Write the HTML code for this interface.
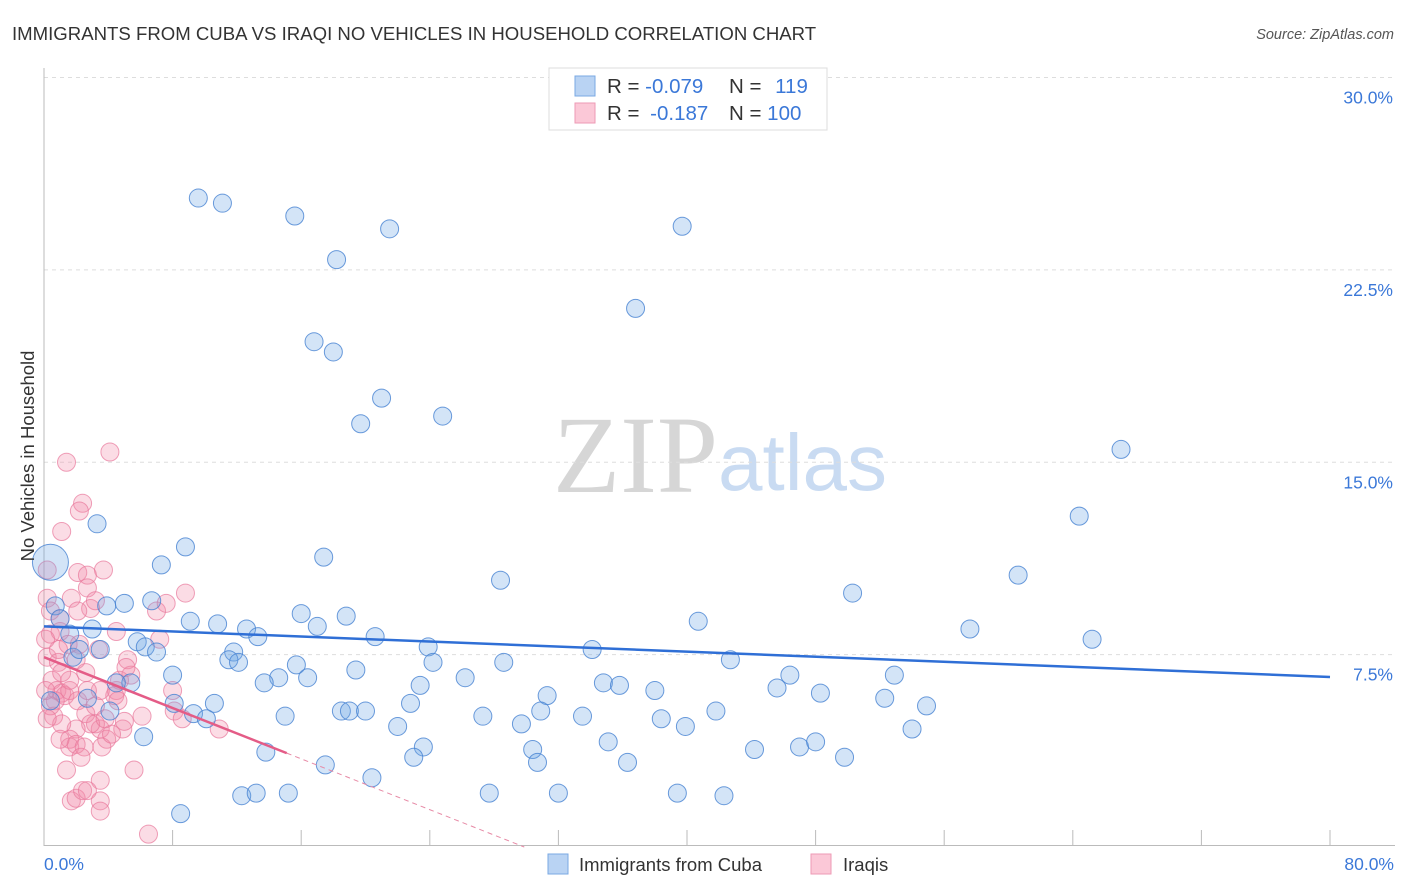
<!DOCTYPE html>
<html><head><meta charset="utf-8"><style>
body{margin:0;background:#fff;font-family:"Liberation Sans",sans-serif;}
svg{display:block}
</style></head><body>
<svg id="chart" width="1406" height="892" xmlns="http://www.w3.org/2000/svg">
<text x="12" y="40" font-size="18.6" fill="#333">IMMIGRANTS FROM CUBA VS IRAQI NO VEHICLES IN HOUSEHOLD CORRELATION CHART</text>
<text x="1394" y="39" font-size="14.5" fill="#555" font-style="italic" text-anchor="end">Source: ZipAtlas.com</text>
<text x="553" y="492" font-size="110" fill="#d6d6d6" font-family="Liberation Serif,serif">ZIP</text>
<text x="718" y="490" font-size="80" fill="#c9dbf2">atlas</text>
<g id="grid"></g>
<g id="axes"></g>
<g id="pts"></g>
<g id="trend"></g>
<text transform="translate(34,456) rotate(-90)" font-size="18.5" fill="#333" text-anchor="middle">No Vehicles in Household</text>
<text x="44" y="870" font-size="17.5" fill="#3b78d8">0.0%</text>
<text x="1394" y="870" font-size="17.5" fill="#3b78d8" text-anchor="end">80.0%</text>
<g>
<rect x="549" y="68" width="278" height="62" fill="#fff" stroke="#ddd"/>
<rect x="575" y="76" width="20" height="20" fill="#b9d3f3" stroke="#7aa8e3"/>
<rect x="575" y="103" width="20" height="20" fill="#fbc8d7" stroke="#ee9ab4"/>
<text x="607" y="93" font-size="20.5" fill="#333">R = <tspan fill="#3b78d8">-0.079</tspan></text>
<text x="729" y="93" font-size="20.5" fill="#333">N = <tspan fill="#3b78d8" dx="8">119</tspan></text>
<text x="607" y="120" font-size="20.5" fill="#333">R = <tspan fill="#3b78d8" dx="5">-0.187</tspan></text>
<text x="729" y="120" font-size="20.5" fill="#333">N = <tspan fill="#3b78d8">100</tspan></text>
</g>
<g>
<rect x="548" y="854" width="20" height="20" fill="#b9d3f3" stroke="#7aa8e3"/>
<text x="579" y="871" font-size="18.5" fill="#333">Immigrants from Cuba</text>
<rect x="811" y="854" width="20" height="20" fill="#fbc8d7" stroke="#ee9ab4"/>
<text x="843" y="871" font-size="18.5" fill="#333">Iraqis</text>
</g>
</svg>
<script>
const yTicks=[7.5,15,22.5,30];
const yTickLabels=["7.5%","15.0%","22.5%","30.0%"];
const xTicks=[0,8,16,24,32,40,48,56,64,72,80];
const cubaX=[9.6,11.1,15.6,21.5,39.7,18.2,36.8,16.8,18.0,21.0,24.8,19.7,67.0,64.4,3.3,8.8,17.4,60.6,7.3,28.4,50.3,6.7,3.9,5.0,16.0,18.8,9.1,10.8,40.7,17.0,57.6,12.6,13.3,20.6,65.2,5.8,6.3,7.0,23.9,34.1,1.8,11.8,11.5,12.1,24.2,28.6,42.7,19.4,15.7,8.0,46.4,52.9,26.2,14.6,16.4,13.7,5.4,4.5,23.4,34.8,35.8,45.6,38.0,31.3,48.3,8.1,10.6,22.8,52.3,54.9,2.7,4.1,9.3,10.1,15.0,18.5,19.0,20.0,30.9,27.3,33.5,41.8,38.4,22.0,29.7,39.9,54.0,6.2,13.8,23.6,23.0,30.4,35.1,44.2,47.0,48.0,49.8,30.7,36.3,17.5,20.4,27.7,12.3,13.2,15.2,32.0,39.4,42.3,8.5,0.7,1.0,3.0,2.2,1.6,3.5,0.4,0.4];
const cubaY=[25.3,25.1,24.6,24.1,24.2,22.9,21.0,19.7,19.3,17.5,16.8,16.5,15.5,12.9,12.6,11.7,11.3,10.6,11.0,10.4,9.9,9.6,9.4,9.5,9.1,9.0,8.8,8.7,8.8,8.6,8.5,8.5,8.2,8.2,8.1,8.0,7.8,7.6,7.8,7.7,7.4,7.6,7.3,7.2,7.2,7.2,7.3,6.9,7.1,6.7,6.7,6.7,6.6,6.6,6.6,6.4,6.4,6.4,6.3,6.4,6.3,6.2,6.1,5.9,6.0,5.6,5.6,5.6,5.8,5.5,5.8,5.3,5.2,5.0,5.1,5.3,5.3,5.3,5.3,5.1,5.1,5.3,5.0,4.7,4.8,4.7,4.6,4.3,3.7,3.9,3.5,3.8,4.1,3.8,3.9,4.1,3.5,3.3,3.3,3.2,2.7,2.1,2.0,2.1,2.1,2.1,2.1,2.0,1.3,9.4,8.9,8.5,7.7,8.3,7.7,5.7,11.1];
const iraqX=[1.4,4.1,2.4,2.2,1.1,0.2,2.1,2.7,3.7,2.7,1.7,2.9,2.1,0.2,0.4,0.4,1.0,1.5,2.2,3.4,4.5,7.0,7.6,8.8,5.2,0.2,0.9,2.0,2.6,0.5,0.8,1.1,1.3,1.6,0.7,2.1,2.6,3.2,4.5,4.7,5.4,7.2,5.1,8.0,8.1,8.6,10.9,4.9,3.5,3.2,2.9,2.0,1.6,3.9,6.1,0.6,0.4,1.1,3.6,1.6,2.0,2.5,1.4,2.3,1.7,3.5,3.5,2.0,2.4,2.7,3.5,5.6,6.5,1.0,4.2,4.4,3.5,1.6,1.1,0.9,0.1,3.2,1.0,4.6,0.1,0.2,2.7,5.0,3.8];
const iraqY=[15.0,15.4,13.4,13.1,12.3,10.8,10.7,10.6,10.8,10.1,9.7,9.3,9.2,9.7,9.2,8.3,8.4,7.9,7.9,7.7,8.4,9.2,9.5,9.9,7.3,7.4,7.2,7.3,6.8,6.5,6.1,6.0,5.9,6.1,5.7,5.7,5.2,5.5,6.1,6.5,6.7,8.1,7.0,6.1,5.3,5.0,4.6,4.6,4.6,4.8,4.8,4.6,4.2,4.2,5.1,5.1,5.5,4.8,3.9,3.9,4.0,3.9,3.0,3.5,1.8,2.6,1.8,1.9,2.2,2.2,1.4,3.0,0.5,4.2,4.4,5.9,6.1,6.5,6.8,7.7,8.1,9.6,8.9,5.7,6.1,5.0,6.1,4.9,5.0];
const cubaTrend=[8.6,6.63];
const iraqTrend=[7.4,3.66];
const iraqSolidEnd=[15.1];

const NS="http://www.w3.org/2000/svg";
const X0=44,X1=1330,Y0=847,PXY=25.65;
const sx=v=>X0+(X1-X0)*v/80;
const sy=v=>Y0-v*PXY;
function mk(tag,attrs,parent){const e=document.createElementNS(NS,tag);for(const k in attrs)e.setAttribute(k,attrs[k]);parent.appendChild(e);return e;}
const grid=document.getElementById('grid'),axes=document.getElementById('axes'),pts=document.getElementById('pts'),trend=document.getElementById('trend');
yTicks.forEach((t,i)=>{
  const l=mk('line',{x1:44,x2:1395,y1:sy(t),y2:sy(t),stroke:'#ddd','stroke-dasharray':'4,4'},grid);
  
  
  const tx=mk('text',{x:1393,y:sy(t)+26,'font-size':17.5,fill:'#3b78d8','text-anchor':'end'},grid);
  tx.textContent=yTickLabels[i];
  
  
});
const ya=mk('line',{x1:44,x2:44,y1:68,y2:846,stroke:'#bbb'},axes);


const xa=mk('line',{x1:44,x2:1395,y1:845.5,y2:845.5,stroke:'#bbb'},axes);


xTicks.forEach(t=>{
  const l=mk('line',{x1:sx(t),x2:sx(t),y1:830,y2:845,stroke:'#bbb'},axes);
  
  
});
function dots(xs,ys,fill,stroke,name){
  xs.forEach((x,i)=>{
    const big=(name==='cuba-point'&&i===xs.length-1);
    const c=mk('circle',{cx:sx(x),cy:sy(ys[i]),r:big?18:9,fill:fill,stroke:stroke,'stroke-width':1},pts);
    
    
  });
}
dots(iraqX,iraqY,'rgba(242,140,170,0.3)','rgba(232,120,155,0.7)','iraqi-point');
dots(cubaX,cubaY,'rgba(110,165,230,0.3)','rgba(70,130,210,0.8)','cuba-point');
const tb=mk('line',{x1:sx(0),y1:sy(cubaTrend[0]),x2:sx(80),y2:sy(cubaTrend[1]),stroke:'#2f6fd6','stroke-width':2.5},trend);


const slope=(iraqTrend[1]-iraqTrend[0])/iraqSolidEnd[0];
const zeroX=-iraqTrend[0]/slope;
const tp=mk('line',{x1:sx(0),y1:sy(iraqTrend[0]),x2:sx(iraqSolidEnd[0]),y2:sy(iraqTrend[1]),stroke:'#e45c87','stroke-width':2.5},trend);


const td=mk('line',{x1:sx(iraqSolidEnd[0]),y1:sy(iraqTrend[1]),x2:sx(zeroX),y2:sy(0),stroke:'#e78aa6','stroke-width':1,'stroke-dasharray':'5,4'},trend);


</script>
</body></html>
